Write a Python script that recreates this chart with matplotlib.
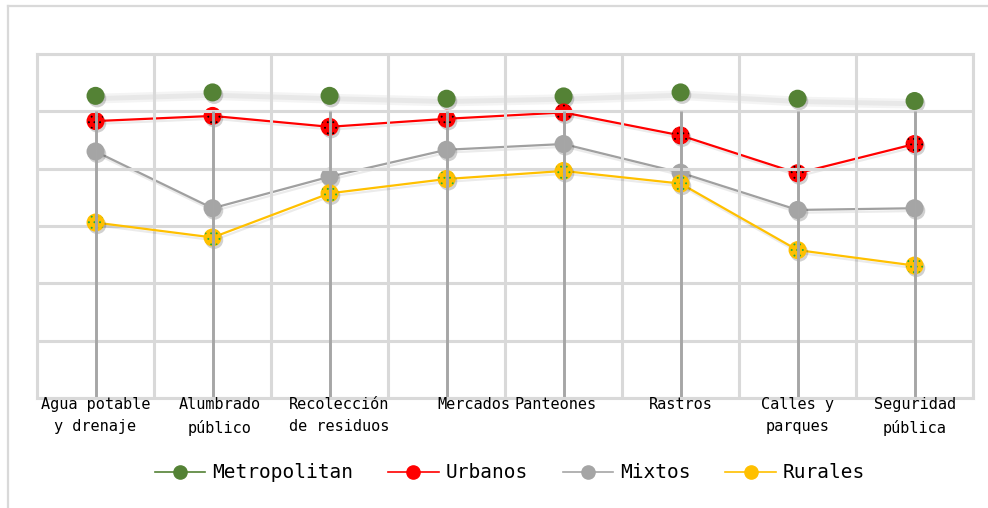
import matplotlib.pyplot as plt
import matplotlib.patheffects as pe
from matplotlib.lines import Line2D
import numpy as np

# Índice por servicio público y tipo de municipio
categorias = ["Agua potable\ny drenaje", "Alumbrado\npúblico", "Recolección\nde residuos",
              "Mercados", "Panteones", "Rastros", "Calles y\nparques", "Seguridad\npública"]
metropolitan = [5.27, 5.33, 5.27, 5.22, 5.26, 5.33, 5.22, 5.18]
urbanos = [4.83, 4.92, 4.73, 4.87, 4.98, 4.58, 3.92, 4.43]
mixtos = [4.30, 3.31, 3.86, 4.33, 4.43, 3.93, 3.28, 3.31]
rurales = [3.06, 2.80, 3.57, 3.82, 3.96, 3.74, 2.58, 2.31]
series_names = ["Metropolitan", "Urbanos", "Mixtos", "Rurales"]

verde, rojo, gris, amarillo = "#548235", "#ff0000", "#a5a5a5", "#ffc000"
grid_color = "#d9d9d9"
mono = "DejaVu Sans Mono"

fig = plt.figure(figsize=(9.88, 5.08), dpi=100)
ax = fig.add_axes([0.0375, 0.2165, 0.9474, 0.6772])
x = np.arange(len(categorias))

# outer chart frame (left and top edges only are visible)
fig.add_artist(Line2D([0.0081, 0.0081], [0, 0.988], transform=fig.transFigure,
                      color=grid_color, lw=1.6))
fig.add_artist(Line2D([0.0081, 1], [0.988, 0.988], transform=fig.transFigure,
                      color=grid_color, lw=1.6))

# drop lines
ax.vlines(x, 0, 5, colors="#a6a6a6", lw=2.1, zorder=1.8)

mark_shadow = [pe.SimplePatchShadow(offset=(1.2, -1.8), shadow_rgbFace="k", alpha=0.18), pe.Normal()]
line_shadow = [pe.SimpleLineShadow(offset=(1, -2), shadow_color="k", alpha=0.08), pe.Normal()]

# Metropolitan: only a soft grey band joins the points
ax.plot(x, metropolitan, color="#e4e4e4", zorder=1.0, solid_capstyle="round",
        path_effects=[pe.Stroke(offset=(0, -2), linewidth=7, foreground="#f4f4f4"),
                      pe.Stroke(offset=(0, -2), linewidth=3.5, foreground="#e8e8e8")])
ax.plot(x, metropolitan, ls="none", marker="o", ms=13, mfc=verde, mec=verde, mew=0,
        zorder=1.1, path_effects=mark_shadow)

for vals, col, z in [(urbanos, rojo, 1.2), (mixtos, "#a0a0a0", 1.4), (rurales, amarillo, 1.6)]:
    ax.plot(x, vals, color=col, lw=1.6, zorder=z, path_effects=line_shadow)
    mcol = gris if col == "#a0a0a0" else col
    ax.plot(x, vals, ls="none", marker="o", ms=13, mfc=mcol, mec=mcol, mew=0,
            zorder=z + 0.05, path_effects=mark_shadow)

# speckled fill on the red and yellow markers
plt.rcParams["hatch.linewidth"] = 0.6
ax.scatter(x, urbanos, s=150, facecolors="none", edgecolors="k", linewidths=0,
           hatch="...", zorder=1.27)
ax.scatter(x, rurales, s=150, facecolors="none", edgecolors="#1fae3a", linewidths=0,
           hatch="...", zorder=1.67)

ax.set_xlim(-0.5, 7.5)
ax.set_ylim(0, 6)
ax.set_yticks(np.arange(0, 7))
ax.set_xticks(x)
ax.set_xticks(np.arange(-0.5, 8, 1), minor=True)
ax.tick_params(which="both", length=0, labelleft=False, labelbottom=False)
ax.grid(which="major", axis="y", color=grid_color, lw=2.2)
ax.grid(which="minor", axis="x", color=grid_color, lw=2.2)
for sp in ax.spines.values():
    sp.set_color(grid_color)
    sp.set_linewidth(2.2)

# category labels
label_dx = [0, 7, 10, 27, -8, 0, 0, 0]
for i, (lab, dx) in enumerate(zip(categorias, label_dx)):
    ax.annotate(lab, xy=(i, 0), xycoords=("data", "axes fraction"), xytext=(dx, 1),
                textcoords="offset pixels", ha="center", va="top", multialignment="center",
                fontsize=11, family=mono, linespacing=1.62, annotation_clip=False)

handles = [Line2D([], [], color=c, lw=1.2, marker="o", ms=9.5, mfc=c, mec=c)
           for c in (verde, rojo, gris, amarillo)]
fig.legend(handles, series_names, loc="center", bbox_to_anchor=(0.516, 0.069), ncol=4,
           frameon=False, prop={"family": mono, "size": 14}, handlelength=2.6,
           handletextpad=0.35, columnspacing=1.8, borderaxespad=0)

fig.savefig("out.png", dpi=100)
